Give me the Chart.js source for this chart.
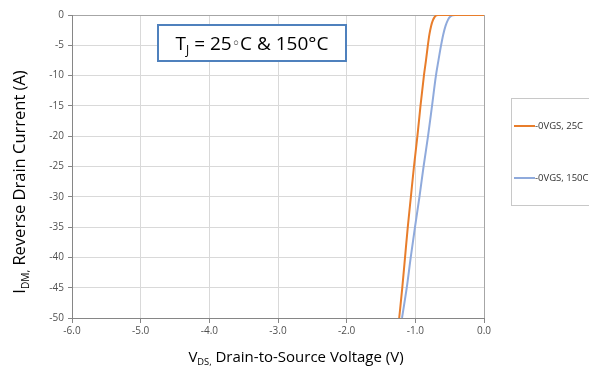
<!DOCTYPE html>
<html>
<head>
<meta charset="utf-8">
<script src="https://cdn.jsdelivr.net/npm/chart.js@4/dist/chart.umd.min.js"></script>
<style>
html,body{margin:0;padding:0;background:#fff;}
canvas{display:block;}
</style>
</head>
<body>
<canvas id="c" width="589" height="369"></canvas>
<script>
// Data
const seriesNames = ["-0VGS, 25C", "-0VGS, 150C"];
const volts25 = [-1.235, -1.19, -1.15, -1.11, -1.065, -1.02, -0.97, -0.925, -0.875, -0.845, -0.82, -0.795, -0.77, -0.745, -0.72, -0.695, -0.67, -0.6, 0];
const amps25  = [-50, -45, -40, -35, -30, -25, -20, -15, -10, -7.5, -5.2, -3.2, -1.8, -0.9, -0.35, -0.08, 0, 0, 0];
const volts150 = [-1.194, -1.125, -1.067, -1.005, -0.94, -0.88, -0.815, -0.757, -0.70, -0.665, -0.63, -0.595, -0.56, -0.525, -0.49, -0.455, -0.42, -0.35, 0];
const amps150  = [-50, -45, -40, -35, -30, -25, -20, -15, -10, -7.6, -5.3, -3.3, -1.8, -0.8, -0.25, -0.05, 0, 0, 0];
const xTickMin = -6, xTickMax = 0, xStep = 1;
const yTickMin = -50, yTickMax = 0, yStep = 5;

const colors = ["#E87D2B", "#8FAADC"];
const FONT = "'Open Sans', 'DejaVu Sans', sans-serif";

function pts(xs, ys){ return xs.map((x,i)=>({x:x, y:ys[i]})); }

function drawSubText(ctx, parts, x, y, size, align){
  // parts: [text, scale, dy]
  ctx.save();
  let total = 0;
  parts.forEach(p=>{ ctx.font = (size*p[1]) + "px " + FONT; total += ctx.measureText(p[0]).width; });
  let cx = align === 'center' ? x - total/2 : x;
  ctx.textBaseline = 'alphabetic';
  ctx.textAlign = 'left';
  parts.forEach(p=>{
    ctx.font = (size*p[1]) + "px " + FONT;
    ctx.fillText(p[0], cx, y + size*p[2]);
    cx += ctx.measureText(p[0]).width;
  });
  ctx.restore();
}

const decor = {
  id: 'decor',
  afterDraw(chart){
    const ctx = chart.ctx;
    // Title box
    ctx.save();
    ctx.fillStyle = '#fff';
    ctx.fillRect(158, 25, 188, 36);
    ctx.strokeStyle = '#4F81BD';
    ctx.lineWidth = 2;
    ctx.strokeRect(158, 25, 188, 36);
    ctx.fillStyle = '#000';
    drawSubText(ctx, [["T",1,0], ["J",0.62,0.22], [" = 25",1,0], ["\u25E6",0.75,-0.1], ["C & 150\u00B0C",1,0]], 252, 50, 19, 'center');
    ctx.restore();

    // X axis title
    ctx.save();
    ctx.fillStyle = '#000';
    drawSubText(ctx, [["V",1,0], ["DS,",0.62,0.22], [" Drain-to-Source Voltage (V)",1,0]], 296, 362, 15, 'center');
    ctx.restore();

    // Y axis title
    ctx.save();
    ctx.translate(25, 182);
    ctx.rotate(-Math.PI/2);
    ctx.fillStyle = '#000';
    drawSubText(ctx, [["I",1,0], ["DM,",0.62,0.22], [" Reverse Drain Current (A)",1,0]], 0, 0, 16.5, 'center');
    ctx.restore();

    // Legend
    ctx.save();
    ctx.fillStyle = '#fff';
    ctx.fillRect(511.5, 98.5, 90, 107);
    ctx.strokeStyle = '#C8C8C8';
    ctx.lineWidth = 1;
    ctx.strokeRect(511.5, 98.5, 90, 107);
    const ly = [126, 178];
    seriesNames.forEach((n,i)=>{
      ctx.strokeStyle = colors[i];
      ctx.lineWidth = 2;
      ctx.beginPath();
      ctx.moveTo(514, ly[i]);
      ctx.lineTo(535, ly[i]);
      ctx.stroke();
      ctx.fillStyle = '#303030';
      ctx.font = "9.5px " + FONT;
      ctx.textBaseline = 'middle';
      ctx.textAlign = 'left';
      ctx.fillText(n, 535, ly[i]);
    });
    ctx.restore();
  }
};

const bgPlugin = {
  id: 'bg',
  beforeDraw(chart){
    const ctx = chart.ctx;
    ctx.save();
    ctx.fillStyle = '#fff';
    ctx.fillRect(0,0,chart.width,chart.height);
    ctx.restore();
  }
};

new Chart(document.getElementById('c'), {
  type: 'scatter',
  data: {
    datasets: [
      { label: seriesNames[0], data: pts(volts25, amps25), showLine: true, borderColor: colors[0], backgroundColor: colors[0], borderWidth: 2, pointRadius: 0, cubicInterpolationMode: 'monotone' },
      { label: seriesNames[1], data: pts(volts150, amps150), showLine: true, borderColor: colors[1], backgroundColor: colors[1], borderWidth: 2, pointRadius: 0, cubicInterpolationMode: 'monotone' }
    ]
  },
  options: {
    responsive: false,
    animation: false,
    devicePixelRatio: 1,
    layout: { padding: { left: 0, top: 15, right: 105, bottom: 0 } },
    plugins: { legend: { display: false }, tooltip: { enabled: false }, title: { display: false } },
    scales: {
      x: {
        type: 'linear', min: xTickMin, max: xTickMax,
        ticks: { stepSize: xStep, callback: v => v.toFixed(1), font: { family: FONT, size: 10 }, color: '#505050', padding: 2, maxRotation: 0 },
        grid: { color: ctx => ctx.tick && ctx.tick.value === 0 ? '#A6A6A6' : '#D9D9D9', tickColor: '#868686', tickLength: 5 },
        border: { color: '#868686' },
        afterFit: s => { s.height = 51; }
      },
      y: {
        type: 'linear', min: yTickMin, max: yTickMax,
        ticks: { stepSize: yStep, font: { family: FONT, size: 10 }, color: '#505050', padding: 4 },
        grid: { color: ctx => ctx.tick && ctx.tick.value === 0 ? '#A6A6A6' : '#D9D9D9', tickColor: '#868686', tickLength: 4 },
        border: { color: '#868686' },
        afterFit: s => { s.width = 72; }
      }
    }
  },
  plugins: [bgPlugin, decor]
});
</script>
</body>
</html>
